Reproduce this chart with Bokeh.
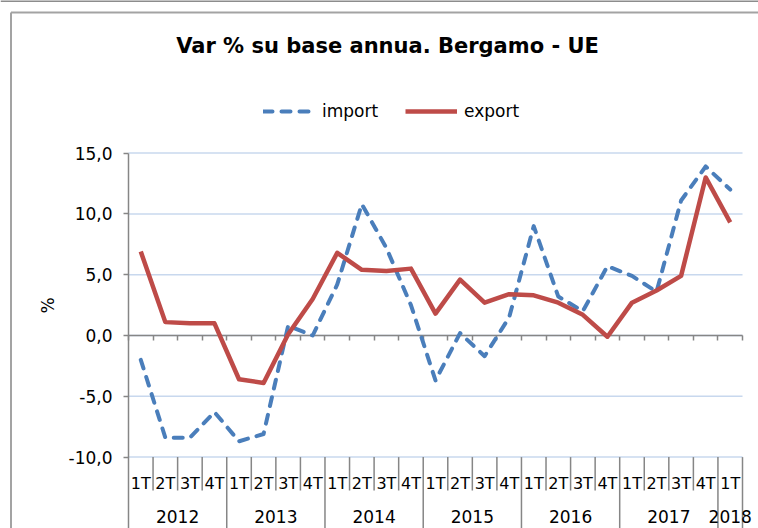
from bokeh.plotting import figure
from bokeh.models import Range1d, FixedTicker, LinearAxis
from bokeh.core.properties import value
from bokeh.embed import file_html
from bokeh.resources import INLINE

# ---------------- data ----------------
title_text = "Var % su base annua. Bergamo - UE"
y_axis_title = "%"
quarters = ["1T", "2T", "3T", "4T"] * 6 + ["1T"]
years = ["2012", "2013", "2014", "2015", "2016", "2017", "2018"]
quarters_per_year = [4, 4, 4, 4, 4, 4, 1]
import_pct = [-2.0, -8.4, -8.4, -6.3, -8.7, -8.1, 0.8, 0.0, 4.2, 10.8, 7.2, 2.5,
              -3.7, 0.2, -1.7, 1.5, 9.0, 3.2, 2.0, 5.7, 4.9, 3.6, 11.1, 13.9, 12.0]
export_pct = [6.9, 1.1, 1.0, 1.0, -3.6, -3.9, 0.1, 3.0, 6.8, 5.4, 5.3, 5.5,
              1.8, 4.6, 2.7, 3.4, 3.3, 2.7, 1.7, -0.1, 2.7, 3.7, 4.9, 13.0, 9.3]
y_ticks = [-10, -5, 0, 5, 10, 15]
y_tick_labels = ["-10,0", "-5,0", "0,0", "5,0", "10,0", "15,0"]

# ---------------- layout / style ----------------
FONT = "DejaVu Sans"
AXIS_GREY = "#868686"
BORDER_GREY = "#a3a3a3"
GRID_BLUE = "#c8d8ee"
BLUE = "#4a7ebb"
RED = "#be4b48"

W, H = 758, 528
PX_X = 24.56          # pixels per category
PX_Y = 12.16          # pixels per percentage point
X0_PX, ZERO_PX = 128, 335   # pixel position of the category axis start and of y = 0

n = len(quarters)
xs = [i + 0.5 for i in range(n)]
Y_MIN, Y_MAX = y_ticks[0], y_ticks[-1]
X_LEFT = -X0_PX / PX_X
X_RIGHT = (W - X0_PX) / PX_X
Y_TOP = ZERO_PX / PX_Y
Y_BOTTOM = -(H - ZERO_PX) / PX_Y

p = figure(width=W, height=H, output_backend="svg", toolbar_location=None,
           x_range=Range1d(X_LEFT, X_RIGHT), y_range=Range1d(Y_BOTTOM, Y_TOP),
           x_axis_location=None, y_axis_location=None,
           min_border_left=0, min_border_right=0, min_border_top=0, min_border_bottom=0)
p.outline_line_color = None
p.background_fill_color = "white"
p.border_fill_color = "white"
p.xgrid.visible = False
p.ygrid.visible = False

def px_to_y(py):
    return (ZERO_PX - py) / PX_Y

def px_to_x(px):
    return (px - X0_PX) / PX_X

# chart box border
p.segment(x0=[X_LEFT], y0=[px_to_y(0.5)], x1=[X_RIGHT], y1=[px_to_y(0.5)],
          line_color="#8c8c8c", line_width=2)
p.segment(x0=[px_to_x(10.5)], y0=[px_to_y(12)], x1=[X_RIGHT], y1=[px_to_y(12)],
          line_color=BORDER_GREY, line_width=2)
p.segment(x0=[px_to_x(10.5)], y0=[px_to_y(12)], x1=[px_to_x(10.5)], y1=[Y_BOTTOM],
          line_color=BORDER_GREY, line_width=2)

# gridlines
g = p.segment(x0=[0] * len(y_ticks), y0=y_ticks, x1=[n] * len(y_ticks), y1=y_ticks,
              line_color=GRID_BLUE, line_width=1.5)
g.level = "underlay"

# y axis (fixed at the start of the category axis)
yax = LinearAxis(fixed_location=0, bounds=(Y_BOTTOM, Y_MAX))
yax.ticker = FixedTicker(ticks=y_ticks)
yax.major_label_overrides = {t: l for t, l in zip(y_ticks, y_tick_labels)}
yax.axis_line_color = AXIS_GREY
yax.axis_line_width = 1.5
yax.major_tick_line_color = AXIS_GREY
yax.major_tick_line_width = 1.5
yax.major_tick_out = 5
yax.major_tick_in = 0
yax.minor_tick_line_color = None
yax.major_label_text_font = FONT
yax.major_label_text_font_size = "17px"
yax.major_label_text_color = "black"
yax.major_label_standoff = 11
p.add_layout(yax, "left")

# horizontal axis crossing at zero
bounds = list(range(n + 1))
xax = LinearAxis(fixed_location=0, bounds=(0, n))
xax.ticker = FixedTicker(ticks=bounds)
xax.axis_line_color = AXIS_GREY
xax.axis_line_width = 1.5
xax.major_tick_line_color = AXIS_GREY
xax.major_tick_line_width = 1.5
xax.major_tick_out = 5
xax.major_tick_in = 0
xax.minor_tick_line_color = None
xax.major_label_text_color = None
p.add_layout(xax, "below")

# category separators below the plot area
year_bounds = [0]
for k in quarters_per_year:
    year_bounds.append(year_bounds[-1] + k)
short_b = [b for b in bounds if b not in year_bounds]
long_b = [b for b in year_bounds if b != 0]
p.segment(x0=short_b, y0=[Y_MIN] * len(short_b), x1=short_b, y1=[px_to_y(490)] * len(short_b),
          line_color=AXIS_GREY, line_width=1.5)
p.segment(x0=long_b, y0=[Y_MIN] * len(long_b), x1=long_b, y1=[Y_BOTTOM] * len(long_b),
          line_color=AXIS_GREY, line_width=1.5)

# category labels
p.text(x=xs, y=[px_to_y(483)] * n, text=quarters, text_font=value(FONT), text_font_size="16px",
       text_align="center", text_baseline="middle", text_color="black")
year_x = [(year_bounds[i] + year_bounds[i + 1]) / 2 for i in range(len(years))]
p.text(x=year_x, y=[px_to_y(516)] * len(years), text=years, text_font=value(FONT),
       text_font_size="17px", text_align="center", text_baseline="middle", text_color="black")

# series
r1 = p.line(xs, import_pct, line_color=BLUE, line_width=4, line_dash="9 9", line_cap="round",
            line_join="round", legend_label="import")
r2 = p.line(xs, export_pct, line_color=RED, line_width=4.5, line_join="round",
            legend_label="export")
r1.level = "overlay"
r2.level = "overlay"

# title
p.text(x=[px_to_x(387)], y=[px_to_y(45)], text=[title_text], text_font=value(FONT),
       text_font_size="21px", text_font_style="bold", text_align="center",
       text_baseline="middle", text_color="black")

# y axis title
p.text(x=[px_to_x(47)], y=[px_to_y(305)], text=[y_axis_title], angle=1.5708,
       text_font=value(FONT), text_font_size="17px", text_align="center",
       text_baseline="middle", text_color="black")

# legend
lg = p.legend[0]
lg.orientation = "horizontal"
lg.location = (263, H - 121)
lg.border_line_color = None
lg.background_fill_alpha = 0
lg.padding = 0
lg.margin = 0
lg.spacing = 23
lg.glyph_width = 52
lg.glyph_height = 20
lg.label_height = 20
lg.label_width = 60
lg.label_standoff = 7
lg.label_text_font = FONT
lg.label_text_font_size = "17px"
lg.label_text_color = "black"

open("out.html", "w").write(file_html(p, INLINE))
